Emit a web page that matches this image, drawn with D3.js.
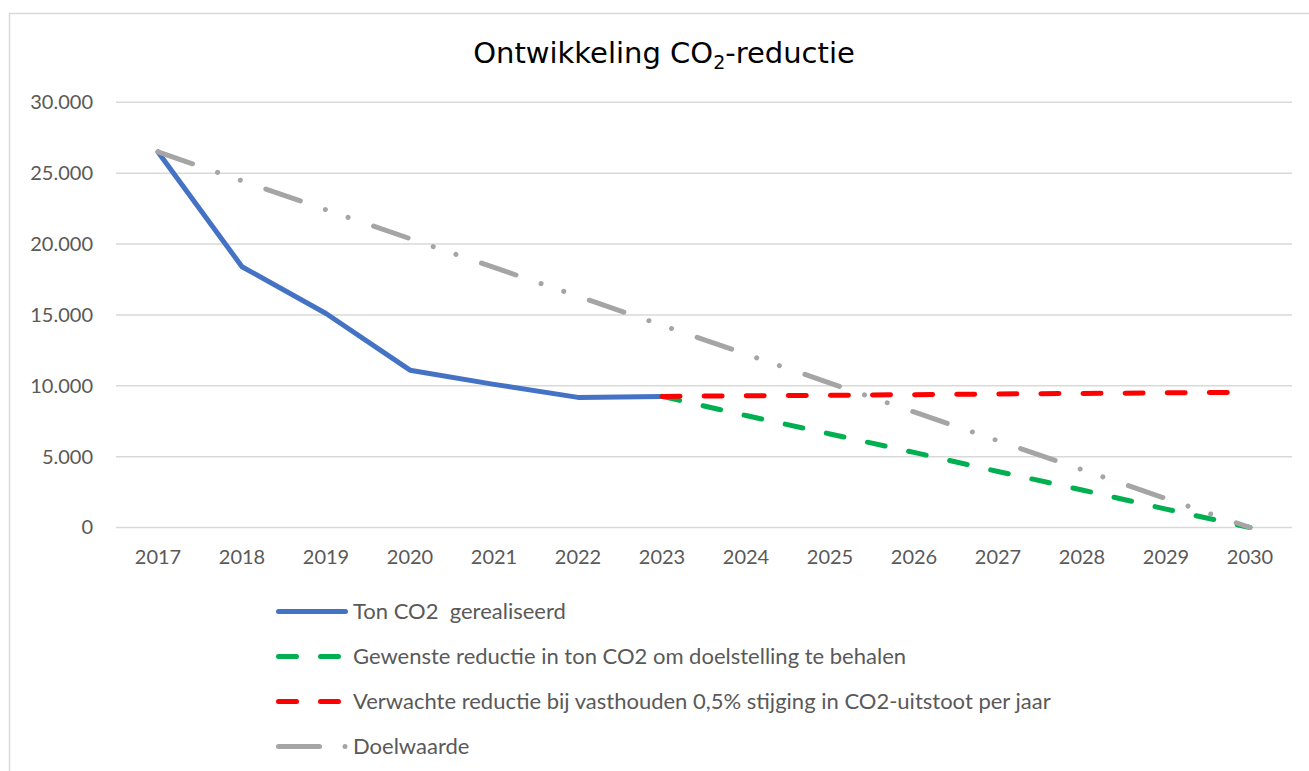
<!DOCTYPE html>
<html>
<head>
<meta charset="utf-8">
<script src="https://cdn.jsdelivr.net/npm/d3@7"></script>
<style>
  body { margin: 0; background: #fff; }
  svg { display: block; }
</style>
</head>
<body>
<svg id="chart"></svg>
<script>
// data
const years = ["2017","2018","2019","2020","2021","2022","2023","2024","2025","2026","2027","2028","2029","2030"];
const gerealiseerd = [26500, 18400, 15100, 11100, 10100, 9180, 9250, null, null, null, null, null, null, null];
const gewenst = [null, null, null, null, null, null, 9250, 7900, 6600, 5300, 3950, 2650, 1300, 0];
const verwacht = [null, null, null, null, null, null, 9250, 9290, 9330, 9370, 9420, 9460, 9500, 9540];
const doelwaarde = [26500, 24460, 22420, 20380, 18350, 16310, 14270, 12230, 10190, 8150, 6120, 4080, 2040, 0];
const yTicks = [0, 5000, 10000, 15000, 20000, 25000, 30000];

const series = [
  {name: "Ton CO2  gerealiseerd", values: gerealiseerd, color: "#4472C4", dash: null, legendDash: null},
  {name: "Gewenste reductie in ton CO2 om doelstelling te behalen", values: gewenst, color: "#00B050", dash: "18 24.1", legendDash: "18 24"},
  {name: "Verwachte reductie bij vasthouden 0,5% stijging in CO2-uitstoot per jaar", values: verwacht, color: "#FF0000", dash: "18 24.1", legendDash: "18 24"},
  {name: "Doelwaarde", values: doelwaarde, color: "#A5A5A5", dash: "36.5 26.5 0.01 24 0.01 27", legendDash: "41 25.5 0.01 100"}
];

const width = 1309, height = 771;
const plot = {left: 116, right: 1292, top: 102.3, bottom: 527.5};
const textColor = "#595959";
const font = "Lato, 'Open Sans', sans-serif";

const nl = d3.formatLocale({decimal: ",", thousands: ".", grouping: [3], currency: ["€", ""]});
const fmt = nl.format(",.0f");

const svg = d3.select("#chart").attr("width", width).attr("height", height);

// chart border
svg.append("rect")
  .attr("x", 9.5).attr("y", 13.5)
  .attr("width", 1310).attr("height", 800)
  .attr("fill", "#fff")
  .attr("stroke", "#d9d9d9")
  .attr("stroke-width", 1.5);

// title
const title = svg.append("text")
  .attr("x", 664).attr("y", 63)
  .attr("text-anchor", "middle")
  .attr("font-family", "'DejaVu Sans', Verdana, sans-serif")
  .attr("font-size", 29)
  .attr("fill", "#000");
title.append("tspan").text("Ontwikkeling CO");
title.append("tspan").attr("font-size", 19).attr("dy", 6).text("2");
title.append("tspan").attr("dy", -6).text("-reductie");

const x = d3.scaleBand().domain(years).range([plot.left, plot.right]).padding(0);
const cx = d => x(d) + x.bandwidth() / 2;
const y = d3.scaleLinear().domain([0, 30000]).range([plot.bottom, plot.top]);

// gridlines
svg.append("g")
  .selectAll("line")
  .data(yTicks)
  .join("line")
    .attr("x1", plot.left).attr("x2", plot.right)
    .attr("y1", d => y(d)).attr("y2", d => y(d))
    .attr("stroke", "#d9d9d9")
    .attr("stroke-width", 1.5);

// y axis labels
const yAxis = svg.append("g")
  .attr("transform", `translate(${plot.left - 4},0)`)
  .call(d3.axisLeft(y).tickValues(yTicks).tickFormat(fmt).tickSize(0).tickPadding(19));
yAxis.select(".domain").remove();
yAxis.selectAll("text")
  .attr("font-family", font).attr("font-size", 20).attr("fill", textColor);

// x axis labels
const xAxis = svg.append("g")
  .attr("transform", `translate(0,${plot.bottom})`)
  .call(d3.axisBottom(x).tickSize(0).tickPadding(22));
xAxis.select(".domain").remove();
xAxis.selectAll("text")
  .attr("font-family", font).attr("font-size", 20).attr("fill", textColor);

// lines
const line = d3.line()
  .defined(d => d.v != null)
  .x(d => cx(d.year))
  .y(d => y(d.v));

svg.append("g")
  .selectAll("path")
  .data(series)
  .join("path")
    .attr("d", s => line(years.map((yr, i) => ({year: yr, v: s.values[i]}))))
    .attr("fill", "none")
    .attr("stroke", s => s.color)
    .attr("stroke-width", 5)
    .attr("stroke-linecap", "round")
    .attr("stroke-linejoin", "round")
    .attr("stroke-dasharray", s => s.dash);

// legend
const legend = svg.append("g")
  .selectAll("g")
  .data(series)
  .join("g")
    .attr("transform", (d, i) => `translate(0,${611.5 + i * 45})`);
legend.append("line")
  .attr("x1", 278.5).attr("x2", 345.5)
  .attr("y1", 0).attr("y2", 0)
  .attr("stroke", d => d.color)
  .attr("stroke-width", 5)
  .attr("stroke-linecap", "round")
  .attr("stroke-dasharray", d => d.legendDash);
legend.append("text")
  .attr("x", 353).attr("y", 7.5)
  .attr("font-family", font).attr("font-size", 22)
  .attr("fill", textColor)
  .attr("xml:space", "preserve")
  .style("white-space", "pre")
  .text(d => d.name);
</script>
</body>
</html>
